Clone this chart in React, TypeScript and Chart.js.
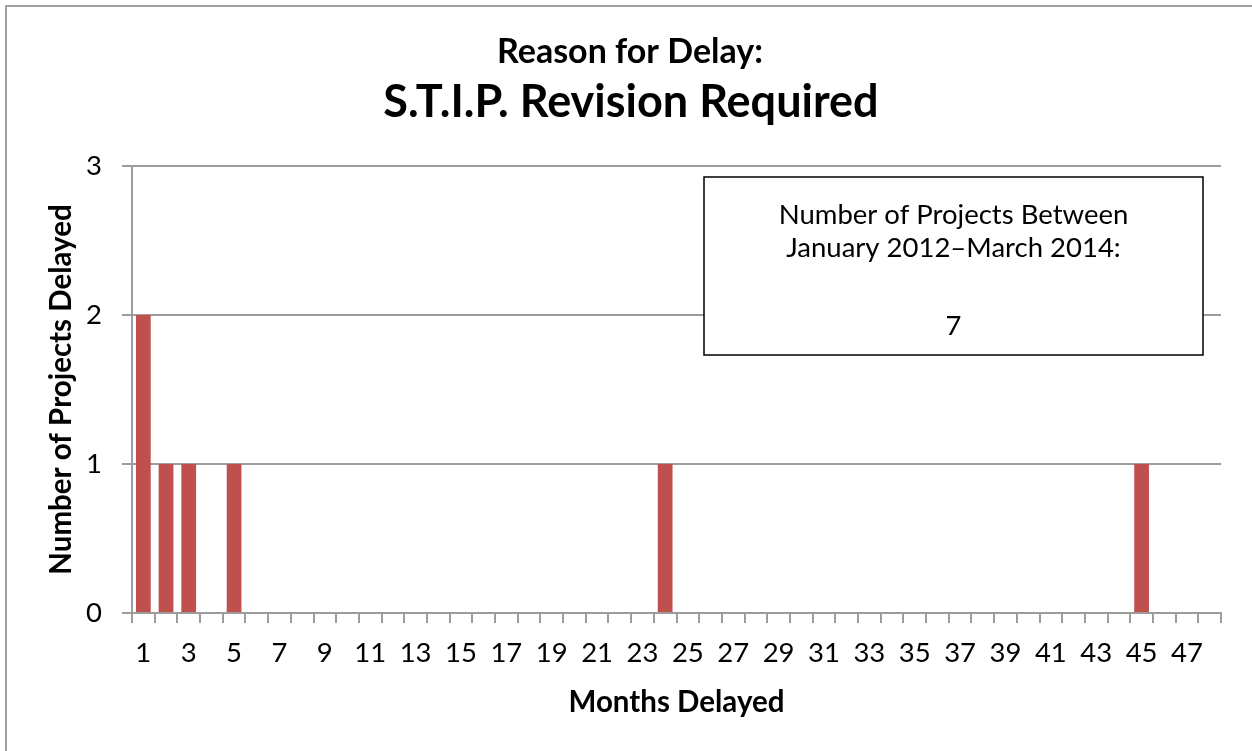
import React, { useEffect, useRef } from 'react';
import { Chart, registerables } from 'chart.js';

Chart.register(...registerables);

// ---- Data ----
const months = [
  '1', '2', '3', '4', '5', '6', '7', '8', '9', '10', '11', '12',
  '13', '14', '15', '16', '17', '18', '19', '20', '21', '22', '23', '24',
  '25', '26', '27', '28', '29', '30', '31', '32', '33', '34', '35', '36',
  '37', '38', '39', '40', '41', '42', '43', '44', '45', '46', '47', '48',
];
const projectsDelayed = [
  2, 1, 1, 0, 1, 0, 0, 0, 0, 0, 0, 0,
  0, 0, 0, 0, 0, 0, 0, 0, 0, 0, 0, 1,
  0, 0, 0, 0, 0, 0, 0, 0, 0, 0, 0, 0,
  0, 0, 0, 0, 0, 0, 0, 0, 1, 0, 0, 0,
];
const xTickLabels = [
  '1', '3', '5', '7', '9', '11', '13', '15', '17', '19', '21', '23',
  '25', '27', '29', '31', '33', '35', '37', '39', '41', '43', '45', '47',
];
const yTickValues = [0, 1, 2, 3];
const titleLine1 = 'Reason for Delay:';
const titleLine2 = 'S.T.I.P. Revision Required';
const noteLines = ['Number of Projects Between', 'January 2012\u2013March 2014:'];
const noteTotal = '7';
const xAxisTitle = 'Months Delayed';
const yAxisTitle = 'Number of Projects Delayed';

const FONT = 'Lato';
const GRID = '#9c9c9c';
const BAR = '#C0504D';

const decorPlugin = {
  id: 'decor',
  beforeDraw(chart: any) {
    const { ctx, width, height } = chart;
    ctx.save();
    ctx.fillStyle = '#ffffff';
    ctx.fillRect(0, 0, width, height);
    ctx.restore();
  },
  afterDraw(chart: any) {
    const { ctx, width, height } = chart;
    ctx.save();
    // outer frame (left & top visible)
    ctx.strokeStyle = '#a0a0a0';
    ctx.lineWidth = 2;
    ctx.beginPath();
    ctx.moveTo(6, height + 10);
    ctx.lineTo(6, 6);
    ctx.lineTo(width + 10, 6);
    ctx.stroke();

    // titles
    ctx.fillStyle = '#000000';
    ctx.textAlign = 'center';
    ctx.textBaseline = 'middle';
    ctx.font = `bold 34px ${FONT}`;
    ctx.fillText(titleLine1, 630, 52);
    ctx.font = `bold 45px ${FONT}`;
    ctx.fillText(titleLine2, 631, 102);

    // note box
    const bx = 704, by = 177, bw = 499, bh = 178;
    ctx.fillStyle = '#ffffff';
    ctx.fillRect(bx, by, bw, bh);
    ctx.strokeStyle = '#000000';
    ctx.lineWidth = 1.5;
    ctx.strokeRect(bx, by, bw, bh);
    ctx.fillStyle = '#000000';
    ctx.font = `27.5px ${FONT}`;
    const cx = bx + bw / 2;
    ctx.fillText(noteLines[0], cx, 215);
    ctx.fillText(noteLines[1], cx, 248);
    ctx.fillText(noteTotal, cx, 326);
    ctx.restore();
  },
};

export default function App() {
  const canvasRef = useRef<HTMLCanvasElement | null>(null);

  useEffect(() => {
    if (!canvasRef.current) return;
    const chart = new Chart(canvasRef.current, {
      type: 'bar',
      data: {
        labels: months,
        datasets: [
          {
            data: projectsDelayed,
            backgroundColor: BAR,
            borderWidth: 0,
            barPercentage: 0.65,
            categoryPercentage: 1,
          },
        ],
      },
      options: {
        responsive: false,
        animation: false,
        events: [],
        layout: { padding: { top: 166, left: 10, right: 31, bottom: 8 } },
        plugins: {
          legend: { display: false },
          tooltip: { enabled: false },
          title: { display: false },
        },
        scales: {
          x: {
            grid: {
              display: true,
              drawOnChartArea: false,
              drawTicks: true,
              tickLength: 10,
              offset: true,
              color: GRID,
              lineWidth: 2,
            },
            border: { display: true, color: GRID, width: 2 },
            ticks: {
              autoSkip: false,
              maxRotation: 0,
              minRotation: 0,
              padding: 14,
              color: '#000000',
              font: { family: FONT, size: 27.5 },
              callback: (_v: any, i: number) => (xTickLabels.includes(months[i]) ? months[i] : ''),
            },
            title: {
              display: true,
              text: xAxisTitle,
              color: '#000000',
              font: { family: FONT, size: 29.5, weight: 'bold' },
              padding: { top: 0, bottom: 23 },
            },
            afterFit: (s: any) => {
              s.height = 130;
            },
          },
          y: {
            min: 0,
            max: 3,
            grid: {
              display: true,
              drawTicks: true,
              tickLength: 10,
              color: GRID,
              lineWidth: 2,
            },
            border: { display: true, color: GRID, width: 2 },
            afterBuildTicks: (s: any) => {
              s.ticks = yTickValues.map((v) => ({ value: v }));
            },
            ticks: {
              padding: 20,
              color: '#000000',
              font: { family: FONT, size: 27.5 },
            },
            title: {
              display: true,
              text: yAxisTitle,
              color: '#000000',
              font: { family: FONT, size: 29.5, weight: 'bold' },
              padding: { top: 34, bottom: 0 },
            },
            afterFit: (s: any) => {
              s.width = 122;
            },
          },
        },
      },
      plugins: [decorPlugin],
    });
    return () => chart.destroy();
  }, []);

  return (
    <div style={{ position: 'absolute', left: 0, top: 0, width: 1252, height: 751, background: '#fff' }}>
      <canvas ref={canvasRef} width={1252} height={751} />
    </div>
  );
}
